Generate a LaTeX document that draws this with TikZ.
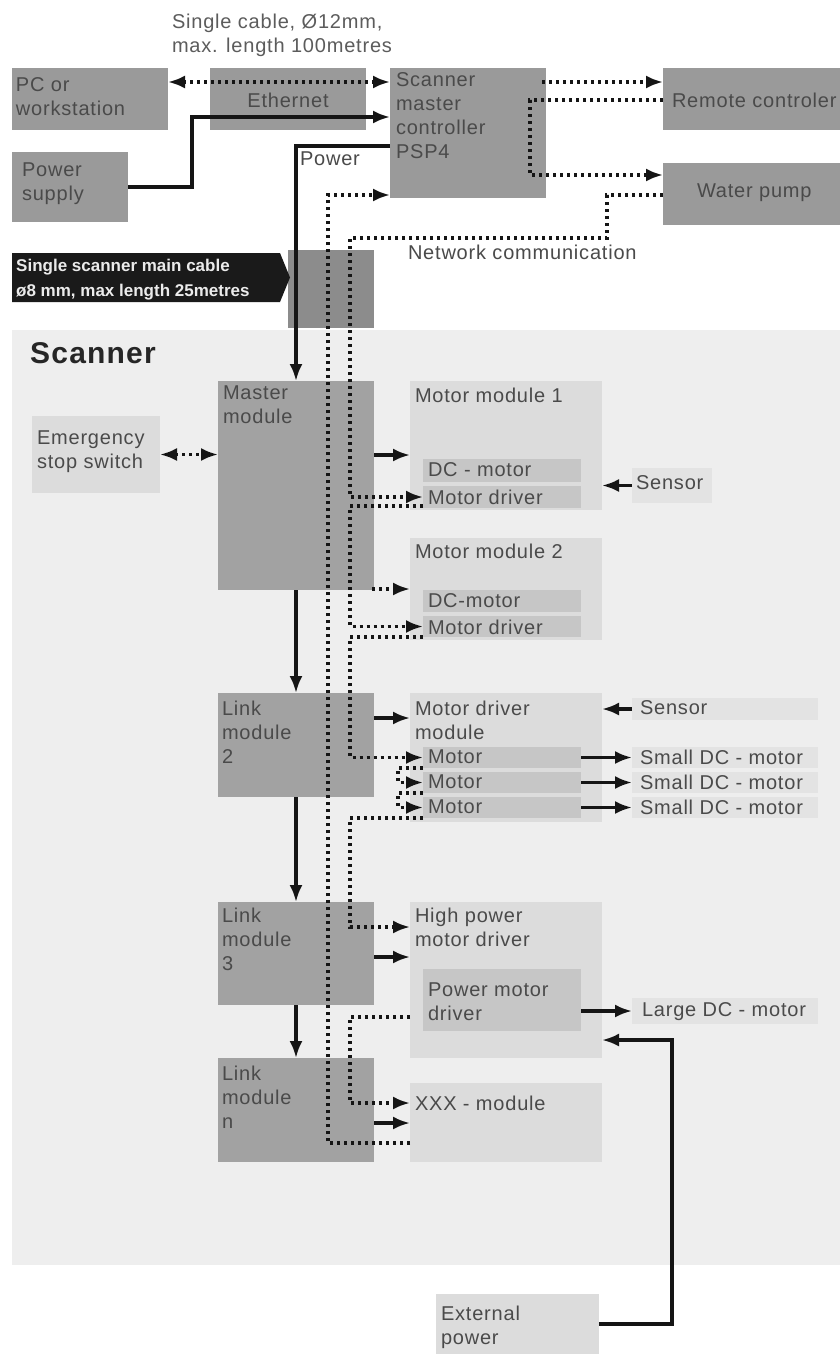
\documentclass[tikz,border=0pt]{standalone}
\usepackage{fontspec}
\setmainfont{Liberation Sans}[LetterSpace=4]
\newfontfamily\cablefont{Liberation Sans}
\usetikzlibrary{arrows.meta}
\definecolor{darkbox}{HTML}{9A9A9A}
\definecolor{modbox}{HTML}{A2A2A2}
\definecolor{connbox}{HTML}{8C8C8C}
\definecolor{lightbox}{HTML}{DCDCDC}
\definecolor{innerbox}{HTML}{C6C6C6}
\definecolor{tagbox}{HTML}{E3E3E3}
\definecolor{scanbg}{HTML}{EEEEEE}
\definecolor{txtc}{HTML}{4A4A4A}
\definecolor{linec}{HTML}{151515}
\definecolor{labelblk}{HTML}{1A1A1A}
\begin{document}
\begin{tikzpicture}[x=1pt,y=-1pt,
  >={Latex[length=17pt,width=13pt]},
  blk/.style={rectangle, inner sep=0pt, outer sep=0pt, anchor=north west, draw=none},
  sz/.style 2 args={minimum width=#1, minimum height=#2},
  dk/.style={blk, fill=darkbox},
  md/.style={blk, fill=modbox},
  lt/.style={blk, fill=lightbox},
  inb/.style={blk, fill=innerbox},
  tg/.style={blk, fill=tagbox},
  txt/.style={anchor=north west, inner sep=0pt, outer sep=0pt, align=left, text=txtc, font=\fontsize{20}{24}\selectfont},
  pw/.style={line width=3.2pt, draw=linec},
  dt/.style={line width=3.2pt, draw=linec, dash pattern=on 3pt off 4pt},
]
\useasboundingbox (0,0) rectangle (840,1354);
\fill[white] (0,0) rectangle (840,1354);

% ---------- top area boxes ----------
\node[dk, sz={156pt}{62pt}] (pc) at (12,68) {};
\node[dk, sz={156pt}{62pt}] (eth) at (210,68) {};
\node[dk, sz={156pt}{130pt}] (psp) at (390,68) {};
\node[dk, sz={177pt}{62pt}] (rc) at (663,68) {};
\node[dk, sz={177pt}{62pt}] (wp) at (663,163) {};
\node[dk, sz={116pt}{70pt}] (ps) at (12,152) {};
\node[blk, fill=connbox, sz={86pt}{78pt}] (conn) at (288,250) {};

% cable label
\fill[labelblk] (12,253) -- (280,253) -- (290,277.5) -- (280,302) -- (12,302) -- cycle;
\node[anchor=north west, inner sep=0pt, text=white!92!black, align=left,
      font=\cablefont\bfseries\fontsize{17}{25}\selectfont] (cablet) at (16,259)
      {Single scanner main cable\\ø8 mm, max length 25metres};

% ---------- scanner area ----------
\node[blk, fill=scanbg, sz={828pt}{935pt}] (scanner) at (12,330) {};
\node[anchor=north west, inner sep=0pt, text=black!85, font=\bfseries\fontsize{30}{34}\selectfont] (scant) at (30,342) {Scanner};

\node[md, sz={156pt}{209pt}] (master) at (218,381) {};
\node[lt, sz={128pt}{77pt}] (emerg) at (32,416) {};
\node[lt, sz={192pt}{129pt}] (mm1) at (410,381) {};
\node[inb, sz={158pt}{23pt}] (dc1) at (423,459) {};
\node[inb, sz={158pt}{22pt}] (md1) at (423,486) {};
\node[tg, sz={80pt}{35pt}] (sensor1) at (632,468) {};
\node[lt, sz={192pt}{102pt}] (mm2) at (410,538) {};
\node[inb, sz={158pt}{22pt}] (dc2) at (423,590) {};
\node[inb, sz={158pt}{21pt}] (md2) at (423,616) {};

\node[md, sz={156pt}{104pt}] (link2) at (218,693) {};
\node[lt, sz={192pt}{129pt}] (mdm) at (410,693) {};
\node[inb, sz={158pt}{21pt}] (m1) at (423,747) {};
\node[inb, sz={158pt}{21pt}] (m2) at (423,772) {};
\node[inb, sz={158pt}{21pt}] (m3) at (423,797) {};
\node[tg, sz={186pt}{22pt}] (sensor2) at (632,698) {};
\node[tg, sz={186pt}{21pt}] (sdc1) at (632,747) {};
\node[tg, sz={186pt}{21pt}] (sdc2) at (632,772) {};
\node[tg, sz={186pt}{21pt}] (sdc3) at (632,797) {};

\node[md, sz={156pt}{103pt}] (link3) at (218,902) {};
\node[lt, sz={192pt}{156pt}] (hpmd) at (410,902) {};
\node[inb, sz={158pt}{62pt}] (pmd) at (423,969) {};
\node[tg, sz={186pt}{26pt}] (ldc) at (632,998) {};

\node[md, sz={156pt}{104pt}] (linkn) at (218,1058) {};
\node[lt, sz={192pt}{79pt}] (xxx) at (410,1083) {};

\node[lt, sz={163pt}{60pt}] (ext) at (436,1294) {};

% ---------- texts ----------
\node[txt, text=txtc!90] (toplabel) at (172,14) {Single cable, Ø12mm,\\max. length 100metres};
\node[txt] (pct) at (16,78) {PC or\\workstation};
\node[txt, anchor=center] (etht) at (288,100) {Ethernet};
\node[txt] (pspt) at (396,73) {Scanner\\master\\controller\\PSP4};
\node[txt, anchor=west] (rct) at (672,100) {Remote controler};
\node[txt, anchor=west] (wpt) at (697,193) {Water pump};
\node[txt] (pst) at (22,163) {Power\\supply};
\node[txt] (powert) at (300,152) {Power};
\node[txt] (nett) at (408,245) {Network communication};

\node[txt] (emergt) at (37,431) {Emergency\\stop switch};
\node[txt] (mastert) at (223,386) {Master\\module};
\node[txt] (mm1t) at (415,388) {Motor module 1};
\node[txt] (dc1t) at (428,463) {DC - motor};
\node[txt] (md1t) at (428,490) {Motor driver};
\node[txt] (sensor1t) at (636,476) {Sensor};
\node[txt] (mm2t) at (415,544) {Motor module 2};
\node[txt] (dc2t) at (428,594) {DC-motor};
\node[txt] (md2t) at (428,620) {Motor driver};

\node[txt] (link2t) at (222,701) {Link\\module\\2};
\node[txt] (mdmt) at (415,701) {Motor driver\\module};
\node[txt] (sensor2t) at (640,701) {Sensor};
\node[txt] (m1t) at (428,750) {Motor};
\node[txt] (m2t) at (428,775) {Motor};
\node[txt] (m3t) at (428,800) {Motor};
\node[txt] (sdc1t) at (640,750) {Small DC - motor};
\node[txt] (sdc2t) at (640,775) {Small DC - motor};
\node[txt] (sdc3t) at (640,800) {Small DC - motor};

\node[txt] (link3t) at (222,908) {Link\\module\\3};
\node[txt] (hpmdt) at (415,908) {High power\\motor driver};
\node[txt] (pmdt) at (428,983) {Power motor\\driver};
\node[txt] (ldct) at (642,1003) {Large DC - motor};
\node[txt] (linknt) at (222,1066) {Link\\module\\n};
\node[txt] (xxxt) at (415,1096) {XXX - module};
\node[txt] (extt) at (441,1306) {External\\power};

% ---------- solid connectors ----------
\draw[pw,->] (ps.east) -- (192,187) |- (psp.west |- 0,117);
\draw[pw,->] (psp.west |- 0,146) -| (master.north);
\draw[pw,->] (master.east |- 0,455) -- (mm1.west |- 0,455);
\draw[pw,->] (sensor1.west) -- (mm1.east |- sensor1.west);
\draw[pw,->] (master.south) -- (link2.north);
\draw[pw,->] (link2.east |- 0,718) -- (mdm.west |- 0,718);
\draw[pw,->] (sensor2.west) -- (mdm.east |- sensor2.west);
\draw[pw,->] (m1.east) -- (sdc1.west);
\draw[pw,->] (m2.east) -- (sdc2.west);
\draw[pw,->] (m3.east) -- (sdc3.west);
\draw[pw,->] (link2.south) -- (link3.north);
\draw[pw,->] (link3.east |- 0,957) -- (hpmd.west |- 0,957);
\draw[pw,->] (pmd.east |- ldc.west) -- (ldc.west);
\draw[pw,->] (ext.east) -| (672,1040) -- (hpmd.east |- 0,1040);
\draw[pw,->] (link3.south) -- (linkn.north);
\draw[pw,->] (linkn.east |- 0,1123) -- (xxx.west |- 0,1123);

% ---------- dotted connectors ----------
\draw[dt,<->] (pc.east |- 0,82) -- (psp.west |- 0,82);
\draw[dt,->] ([xshift=-4pt]psp.east |- 0,82) -- (rc.west |- 0,82);
\draw[dt,->] (rc.west |- 0,100) -- (530,100) -- (530,175) -- (wp.west |- 0,175);
\draw[dt,->] (wp.west |- 0,195) -- (607,195) -- (607,238) -- (350,238) -- (350,497) -- (md1.west);
\draw[dt,->] (xxx.west |- 0,1143) -- (328,1143) -- (328,195) -- (psp.west |- 0,195);
\draw[dt,->] (md1.west |- 0,506) -- (350,506) -- (350,626.5) -- (md2.west);
\draw[dt,->] ([xshift=-2pt]master.east |- 0,589) -- (mm2.west |- 0,589);
\draw[dt,->] (md2.west |- 0,637) -- (350,637) -- (350,757.5) -- (m1.west);
\draw[dt,->] (m1.south west) -- (398,768) -- (398,782.5) -- (m2.west);
\draw[dt,->] (m2.south west) -- (398,793) -- (398,807.5) -- (m3.west);
\draw[dt,->] (m3.south west) -- (350,818) -- (350,927) -- (hpmd.west |- 0,927);
\draw[dt,->] (hpmd.west |- 0,1017) -- (350,1017) -- (350,1103) -- (xxx.west |- 0,1103);
\draw[dt,<->] (emerg.east) -- (master.west |- emerg.east);
\end{tikzpicture}
\end{document}
